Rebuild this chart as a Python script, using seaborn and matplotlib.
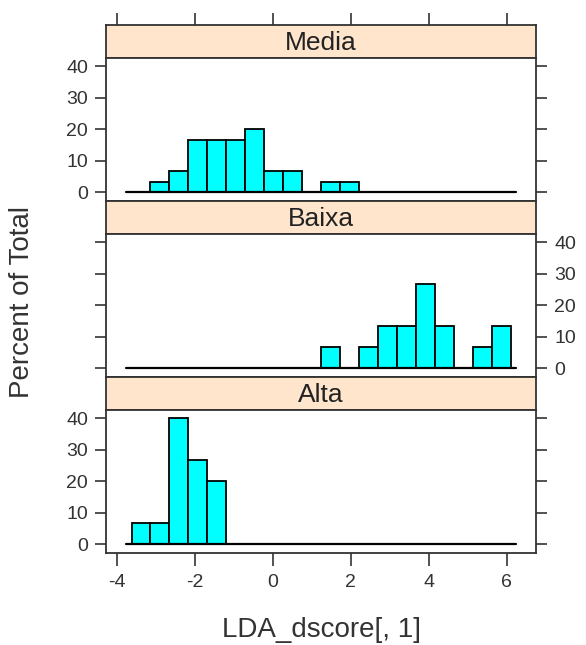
import numpy as np
import pandas as pd
import matplotlib
matplotlib.use("Agg")
import matplotlib.pyplot as plt
import seaborn as sns

# histogram bins shared by all panels
bin_start = -3.62
bin_width = 0.486
n_bins = 20

panels = ["Media", "Baixa", "Alta"]
pct_media = [0, 3.33, 6.67, 16.67, 16.67, 16.67, 20.0, 6.67, 6.67, 0,
             3.33, 3.33, 0, 0, 0, 0, 0, 0, 0, 0]
pct_baixa = [0, 0, 0, 0, 0, 0, 0, 0, 0, 0,
             6.67, 0, 6.67, 13.33, 13.33, 26.67, 13.33, 0, 6.67, 13.33]
pct_alta = [6.67, 6.67, 40.0, 26.67, 20.0, 0, 0, 0, 0, 0,
            0, 0, 0, 0, 0, 0, 0, 0, 0, 0]
y_ticks = [0, 10, 20, 30, 40]
x_ticks = [-4, -2, 0, 2, 4, 6]

edges = bin_start + bin_width * np.arange(n_bins + 1)
centers = (edges[:-1] + edges[1:]) / 2

sns.set_style("ticks")
plt.rcParams["font.family"] = ["Liberation Sans", "DejaVu Sans"]

W, H = 586, 645
fig = plt.figure(figsize=(W / 100, H / 100), dpi=100)

left, right = 106, 536
top = 25
strip_h, plot_h = 33, 143
xlim = (-4.274, 6.75)
ylim = (-2.8, 42.7)
frame = "#333333"

for i, (name, pct) in enumerate(zip(panels, [pct_media, pct_baixa, pct_alta])):
    y0 = top + i * (strip_h + plot_h)
    # strip
    sax = fig.add_axes([left / W, 1 - (y0 + strip_h) / H, (right - left) / W, strip_h / H])
    sax.set_facecolor("#FFE5CC")
    sax.set_xlim(xlim)
    sax.set_yticks([])
    sax.text(0.5, 0.45, name, transform=sax.transAxes, ha="center", va="center", fontsize=19, color="#222222")
    for sp in sax.spines.values():
        sp.set_color(frame)
        sp.set_linewidth(1.3)
    if i == 0:
        sax.set_xticks(x_ticks)
        sax.tick_params(axis="x", bottom=False, labelbottom=False, top=True, labeltop=False,
                        direction="out", length=9, width=1.2, color=frame)
    else:
        sax.set_xticks([])

    # panel
    ax = fig.add_axes([left / W, 1 - (y0 + strip_h + plot_h) / H, (right - left) / W, plot_h / H])
    df = pd.DataFrame({"center": centers, "pct": pct})
    sns.histplot(data=df, x="center", weights="pct", bins=list(edges), ax=ax, color="#00FFFF",
                 edgecolor="black", linewidth=1.3, alpha=1)
    # lattice-style baseline under the empty bins
    ax.plot([edges[0] - 0.13, edges[-1] + 0.13], [0, 0], color="black", lw=1.6, zorder=1)
    ax.set_xlim(xlim)
    ax.set_ylim(ylim)
    ax.set_ylabel("")
    ax.set_xlabel("")
    ax.set_yticks(y_ticks)
    lab_left = (i != 1)
    ax.tick_params(axis="y", left=True, right=True, labelleft=lab_left, labelright=not lab_left,
                   direction="out", length=8, width=1.2, color=frame, labelsize=14, pad=5,
                   labelcolor="#333333")
    if i == 2:
        ax.set_xticks(x_ticks)
        ax.tick_params(axis="x", bottom=True, top=False, direction="out", length=9, width=1.2,
                       color=frame, labelsize=14, pad=6, labelcolor="#333333")
        ax.set_xticklabels([str(t) for t in x_ticks])
    else:
        ax.set_xticks([])
    for sp in ax.spines.values():
        sp.set_visible(True)
        sp.set_color(frame)
        sp.set_linewidth(1.3)

fig.text(22 / W, 1 - 302 / H, "Percent of Total", rotation=90, ha="center", va="center",
         fontsize=20, color="#333333")
fig.text(322 / W, 1 - 630 / H, "LDA_dscore[, 1]", ha="center", va="center",
         fontsize=20, color="#333333")

fig.savefig("out.png", dpi=100)
